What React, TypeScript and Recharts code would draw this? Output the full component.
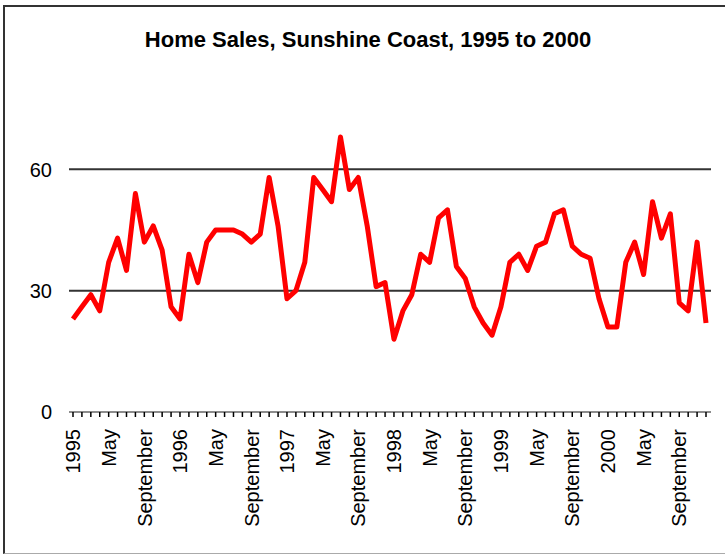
import { CartesianGrid, Line, LineChart, XAxis, YAxis } from "recharts"

const YEARS = [1995, 1996, 1997, 1998, 1999, 2000]
const MONTHS = ["Jan", "Feb", "Mar", "Apr", "May", "Jun", "Jul", "Aug", "Sep", "Oct", "Nov", "Dec"]

// monthly home sales, Jan 1995 .. Dec 2000
const SALES = [
  23, 26, 29, 25, 37, 43, 35, 54, 42, 46, 40, 26,
  23, 39, 32, 42, 45, 45, 45, 44, 42, 44, 58, 46,
  28, 30, 37, 58, 55, 52, 68, 55, 58, 46, 31, 32,
  18, 25, 29, 39, 37, 48, 50, 36, 33, 26, 22, 19,
  26, 37, 39, 35, 41, 42, 49, 50, 41, 39, 38, 28,
  21, 21, 37, 42, 34, 52, 43, 49, 27, 25, 42, 22,
]

const Y_TICKS = [0, 30, 60]
const GRID_VALUES = [30, 60]

const data = YEARS.flatMap((year, yi) =>
  MONTHS.map((month, mi) => ({
    key: `${month} ${year}`,
    label: month === "Jan" ? String(year) : month === "May" ? "May" : month === "Sep" ? "September" : "",
    sales: SALES[yi * 12 + mi],
  }))
)

const FONT = "'Liberation Sans', Arial, sans-serif"

function MonthTick({ x, y, index }: any) {
  const label = data[index]?.label
  if (!label) return null
  return (
    <text
      transform={`translate(${x},${y + 10}) rotate(-90)`}
      textAnchor="end"
      dy="0.36em"
      fontSize={20}
      fontFamily={FONT}
      fill="#000"
    >
      {label}
    </text>
  )
}

function ValueTick({ y, payload }: any) {
  return (
    <text x={52} y={y} textAnchor="end" dy="0.36em" fontSize={20} fontFamily={FONT} fill="#000">
      {payload.value}
    </text>
  )
}

export default function App() {
  return (
    <div
      style={{
        position: "absolute",
        left: 0,
        top: 0,
        width: 725,
        height: 554,
        overflow: "hidden",
        background: "#fff",
      }}
    >
      <div
        style={{
          position: "absolute",
          left: 3,
          top: 5,
          width: 740,
          height: 546,
          borderLeft: "2px solid #333",
          borderTop: "2px solid #333",
          borderBottom: "1px solid #aaa",
        }}
      />
      <svg width={725} height={60} style={{ position: "absolute", left: 0, top: 0 }}>
        <text
          x={368}
          y={47}
          textAnchor="middle"
          fontSize={22}
          fontWeight="bold"
          fontFamily={FONT}
          fill="#000"
        >
          Home Sales, Sunshine Coast, 1995 to 2000
        </text>
      </svg>
      <div style={{ position: "absolute", left: 0, top: 0 }}>
        <LineChart width={725} height={554} data={data} margin={{ top: 48, right: 14, left: 0, bottom: 42 }}>
          <CartesianGrid
            vertical={false}
            horizontalValues={GRID_VALUES}
            stroke="#333"
            strokeWidth={2}
          />
          <XAxis
            dataKey="key"
            interval={0}
            height={100}
            padding={{ left: 4, right: 5 }}
            tick={<MonthTick />}
            tickSize={5}
            tickLine={{ stroke: "#000", strokeWidth: 1.5 }}
            axisLine={{ stroke: "#666", strokeWidth: 1.5 }}
          />
          <YAxis
            width={69}
            domain={[0, 90]}
            ticks={Y_TICKS}
            axisLine={false}
            tickLine={false}
            tick={<ValueTick />}
          />
          <Line
            type="linear"
            dataKey="sales"
            stroke="#ff0000"
            strokeWidth={5}
            strokeLinejoin="round"
            dot={false}
            isAnimationActive={false}
          />
        </LineChart>
      </div>
    </div>
  )
}
